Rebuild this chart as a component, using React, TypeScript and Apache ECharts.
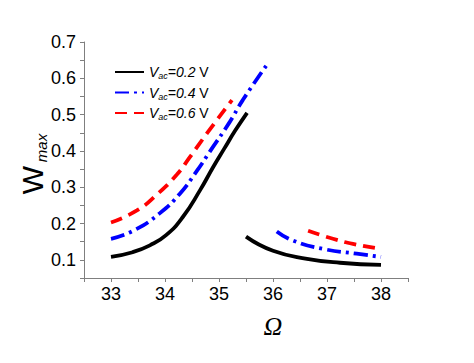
import React, { useEffect, useRef } from "react";
import * as echarts from "echarts";

const seriesNames = ["V02", "V04", "V06"];
const legendValues = ["0.2", "0.4", "0.6"];

const blackLowerX = [33, 33.4, 33.72, 34.02, 34.33, 34.65, 34.89, 35.1, 35.3, 35.52];
const blackLowerY = [0.108, 0.121, 0.14, 0.168, 0.218, 0.292, 0.355, 0.407, 0.456, 0.505];
const blackUpperX = [35.5, 36, 36.63, 37.24, 38];
const blackUpperY = [0.164, 0.125, 0.103, 0.092, 0.086];

const blueLowerX = [33, 33.41, 33.9, 34.28, 34.59, 34.83, 35.2, 35.44, 35.91];
const blueLowerY = [0.158, 0.18, 0.228, 0.283, 0.345, 0.398, 0.48, 0.54, 0.642];
const blueUpperX = [36.07, 36.37, 36.93, 37.55, 38];
const blueUpperY = [0.178, 0.153, 0.13, 0.117, 0.108];

const redLowerX = [33, 33.48, 33.85, 34.22, 34.46, 34.8, 35.24];
const redLowerY = [0.203, 0.236, 0.28, 0.335, 0.383, 0.453, 0.54];
const redUpperX = [36.65, 37.11, 37.48, 38];
const redUpperY = [0.18, 0.158, 0.144, 0.13];

const xTicks = [33, 34, 35, 36, 37, 38];

const zip = (xs: number[], ys: number[]) => xs.map((x, i) => [x, ys[i]]);

export default function App() {
  const ref = useRef<HTMLDivElement>(null);
  useEffect(() => {
    if (!ref.current) return;
    const chart = echarts.init(ref.current, undefined, { renderer: "svg" });
    const colors = ["#000000", "#0000ff", "#ff0000"];
    const dashes: any[] = ["solid", [14, 5, 3, 5], [12, 7]];
    const branches = [
      [zip(blackLowerX, blackLowerY), zip(blackUpperX, blackUpperY)],
      [zip(blueLowerX, blueLowerY), zip(blueUpperX, blueUpperY)],
      [zip(redLowerX, redLowerY), zip(redUpperX, redUpperY)],
    ];
    const series: any[] = [];
    branches.forEach((br, i) => {
      br.forEach((d) => {
        series.push({
          name: seriesNames[i],
          type: "line",
          data: d,
          smooth: 0.5,
          showSymbol: false,
          symbol: "none",
          lineStyle: { color: colors[i], width: 3.8, type: dashes[i] },
          itemStyle: { color: colors[i] },
        });
      });
    });
    const axisGray = "#7f7f7f";
    chart.setOption({
      animation: false,
      backgroundColor: "#ffffff",
      grid: { left: 84, right: 66, top: 42, bottom: 85 },
      legend: {
        data: seriesNames,
        left: 109,
        top: 60,
        orient: "vertical",
        itemWidth: 29,
        itemHeight: 12,
        itemGap: 5,
        itemStyle: { opacity: 0 },
        formatter: (name: string) => {
          const v = legendValues[seriesNames.indexOf(name)];
          return `{i|V}{s|ac}{i|=${v}}{n| V}`;
        },
        textStyle: {
          fontFamily: "Arial, Liberation Sans",
          fontSize: 14,
          color: "#000",
          rich: {
            i: { fontStyle: "italic", fontSize: 14, fontFamily: "Liberation Sans", color: "#000", lineHeight: 16 },
            s: { fontStyle: "italic", fontSize: 9, fontFamily: "Liberation Sans", color: "#000", verticalAlign: "bottom", padding: [8, 0, 0, 0] },
            n: { fontSize: 14, fontFamily: "Liberation Sans", color: "#000", lineHeight: 16 },
          },
        },
      },
      xAxis: {
        type: "value",
        min: 32.5,
        max: 38.5,
        interval: 0.5,
        splitLine: { show: false },
        axisLine: { onZero: false, lineStyle: { color: axisGray, width: 1 } },
        axisTick: { show: true, length: 4, lineStyle: { color: axisGray } },
        axisLabel: {
          margin: 7,
          fontFamily: "Liberation Sans",
          fontSize: 18,
          color: "#000",
          formatter: (v: number) => (xTicks.includes(v) ? String(v) : ""),
        },
      },
      yAxis: {
        type: "value",
        min: 0.05,
        max: 0.7,
        interval: 0.05,
        splitLine: { show: false },
        axisLine: { show: true, onZero: false, lineStyle: { color: axisGray, width: 1 } },
        axisTick: { show: true, length: 4, lineStyle: { color: axisGray } },
        axisLabel: {
          margin: 8,
          fontFamily: "Liberation Sans",
          fontSize: 18,
          color: "#000",
          formatter: (v: number) => {
            const k = Math.round(v * 100);
            return k % 10 === 0 ? (k / 100).toFixed(1) : "";
          },
        },
      },
      graphic: [
        {
          type: "text",
          x: 273,
          y: 326,
          style: {
            text: "Ω",
            font: "italic 26px 'Liberation Serif'",
            fill: "#000",
            textAlign: "center",
            textVerticalAlign: "middle",
          },
        },
        {
          type: "text",
          x: 32,
          y: 180,
          rotation: Math.PI / 2,
          style: {
            text: "W",
            font: "30px 'Liberation Sans'",
            fill: "#000",
            textAlign: "center",
            textVerticalAlign: "middle",
          },
        },
        {
          type: "text",
          x: 41,
          y: 148,
          rotation: Math.PI / 2,
          style: {
            text: "max",
            font: "italic 15px 'Liberation Sans'",
            fill: "#000",
            textAlign: "center",
            textVerticalAlign: "middle",
          },
        },
      ],
      series,
    });
    return () => chart.dispose();
  }, []);
  return (
    <div
      ref={ref}
      style={{ position: "fixed", left: 0, top: 0, width: 474, height: 363, background: "#fff" }}
    />
  );
}
